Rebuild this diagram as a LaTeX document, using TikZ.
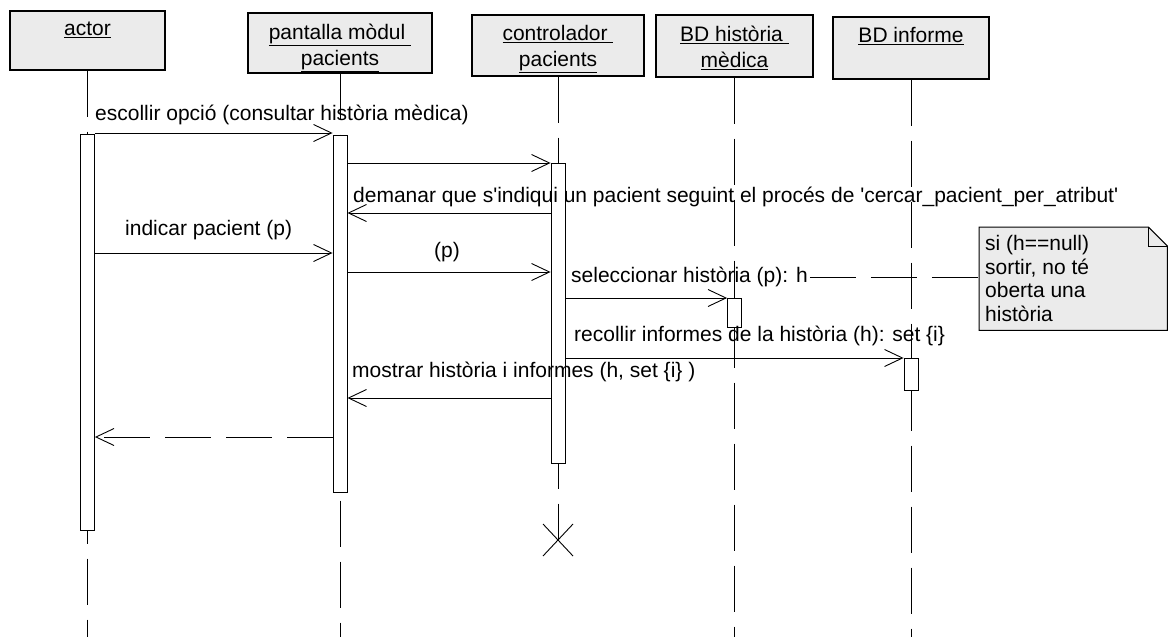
\documentclass[tikz,border=0pt]{standalone}
\usepackage{fontspec}
\setmainfont{Liberation Sans}
\usetikzlibrary{arrows.meta}

\begin{document}
\begin{tikzpicture}[x=1pt,y=-1pt,>={Straight Barb[length=18pt,width=17pt]},
  font=\fontsize{21}{26}\selectfont,
  head/.style={shape=rectangle,draw,line width=1.1pt,fill=black!8,inner sep=0pt},
  headtext/.style={anchor=north,align=center,inner sep=0pt,yshift=-11pt},
  bar/.style={shape=rectangle,draw,fill=white,line width=0.9pt,minimum width=14pt,inner sep=0pt,anchor=north},
  lbl/.style={anchor=west,inner sep=0pt},
  msg/.style={->,line width=0.9pt},
  life/.style={line width=0.9pt,dash pattern=on 46pt off 15pt}]
\useasboundingbox (0,0) rectangle (1169,637);
\node   (actor) at (87.5,40.5) [head,minimum width=155pt,minimum height=59pt,label={[headtext]north:\underline{actor}}] {};
\node     (pan) at (340,43)   [head,minimum width=184pt,minimum height=60pt,label={[headtext]north:{\underline{pantalla mòdul\ }\\\underline{pacients}}}] {};
\node    (ctrl) at (558,45.5) [head,minimum width=172pt,minimum height=61pt,label={[headtext]north:{\underline{controlador\ }\\\underline{pacients}}}] {};
\node  (bdhist) at (734.5,46) [head,minimum width=157pt,minimum height=62pt,label={[headtext]north:{\underline{BD història\ }\\\underline{mèdica}}}] {};
\node   (bdinf) at (911,48)   [head,minimum width=156pt,minimum height=62pt,label={[headtext]north:\underline{BD informe}}] {};
\coordinate (ctrlend) at (558,540);
\draw [life]  (actor.south) -- (actor.south |- 0,637);
\draw [life]    (pan.south) -- (pan.south |- 0,637);
\draw [life]   (ctrl.south) -- (ctrlend);
\draw [life] (bdhist.south) -- (bdhist.south |- 0,637);
\draw [life]  (bdinf.south) -- (bdinf.south |- 0,637);
\draw [line width=0.9pt] (ctrlend) +(-15,-16) -- +(15,16) (ctrlend) +(-15,16) -- +(15,-16);
\node  (actbar) at (87.5,134) [bar,minimum height=396pt] {};
\node  (panbar) at (340,135)  [bar,minimum height=357pt] {};
\node (ctrlbar) at (558,163)  [bar,minimum height=300pt] {};
\node (histbar) at (734.5,298) [bar,minimum height=29pt] {};
\node  (infbar) at (911,358)  [bar,minimum height=32pt] {};
\node (l1) at (95,115)  [lbl] {escollir opció (consultar història mèdica)};
\node (l3) at (353,197) [lbl] {demanar que s\textquotesingle indiqui un pacient seguint el procés de \textquotesingle cercar\_pacient\_per\_atribut\textquotesingle};
\node (l4) at (125,230) [lbl] {indicar pacient (p)};
\node (l5) at (447,252) [inner sep=0pt] {(p)};
\node (l6) at (571,277) [lbl] {seleccionar història (p): h};
\node (l7) at (574,336) [lbl] {recollir informes de la història (h): set \{i\}};
\node (l8) at (352,372) [lbl] {mostrar història i informes (h, set \{i\} )};
\draw [msg] (actbar.east |- 0,133) -- (panbar.west |- 0,133);
\draw [msg] (panbar.east |- 0,163) -- (ctrlbar.west |- 0,163);
\draw [msg] (ctrlbar.west |- 0,213) -- (panbar.east |- 0,213);
\draw [msg] (actbar.east |- 0,253) -- (panbar.west |- 0,253);
\draw [msg] (panbar.east |- 0,272) -- (ctrlbar.west |- 0,272);
\draw [msg] (ctrlbar.east |- 0,298) -- (histbar.west |- 0,298);
\draw [msg] (ctrlbar.east |- 0,358) -- (infbar.west |- 0,358);
\draw [msg] (ctrlbar.west |- 0,398) -- (panbar.east |- 0,398);
\draw [msg,life] (panbar.west |- 0,437) -- (actbar.east |- 0,437);
\node (note) at (979,227) [anchor=north west,minimum width=188pt,minimum height=103pt,inner sep=0pt] {};
\draw [line width=1pt,fill=black!8] (note.north west) -- ([xshift=-19pt]note.north east) -- ([yshift=-19pt]note.north east) -- (note.south east) -- (note.south west) -- cycle;
\draw [line width=0.8pt] ([xshift=-19pt]note.north east) -- ([xshift=-19pt,yshift=-19pt]note.north east) -- ([yshift=-19pt]note.north east);
\node (notetext) at ([xshift=6pt]note.west) [anchor=west,align=left,inner sep=0pt,font=\fontsize{21}{23.5}\selectfont] {si (h==null)\\sortir, no té\\oberta una\\història};
\draw [life] ([xshift=2pt]l6.east) -- (note.west |- l6.east);
\end{tikzpicture}
\end{document}
